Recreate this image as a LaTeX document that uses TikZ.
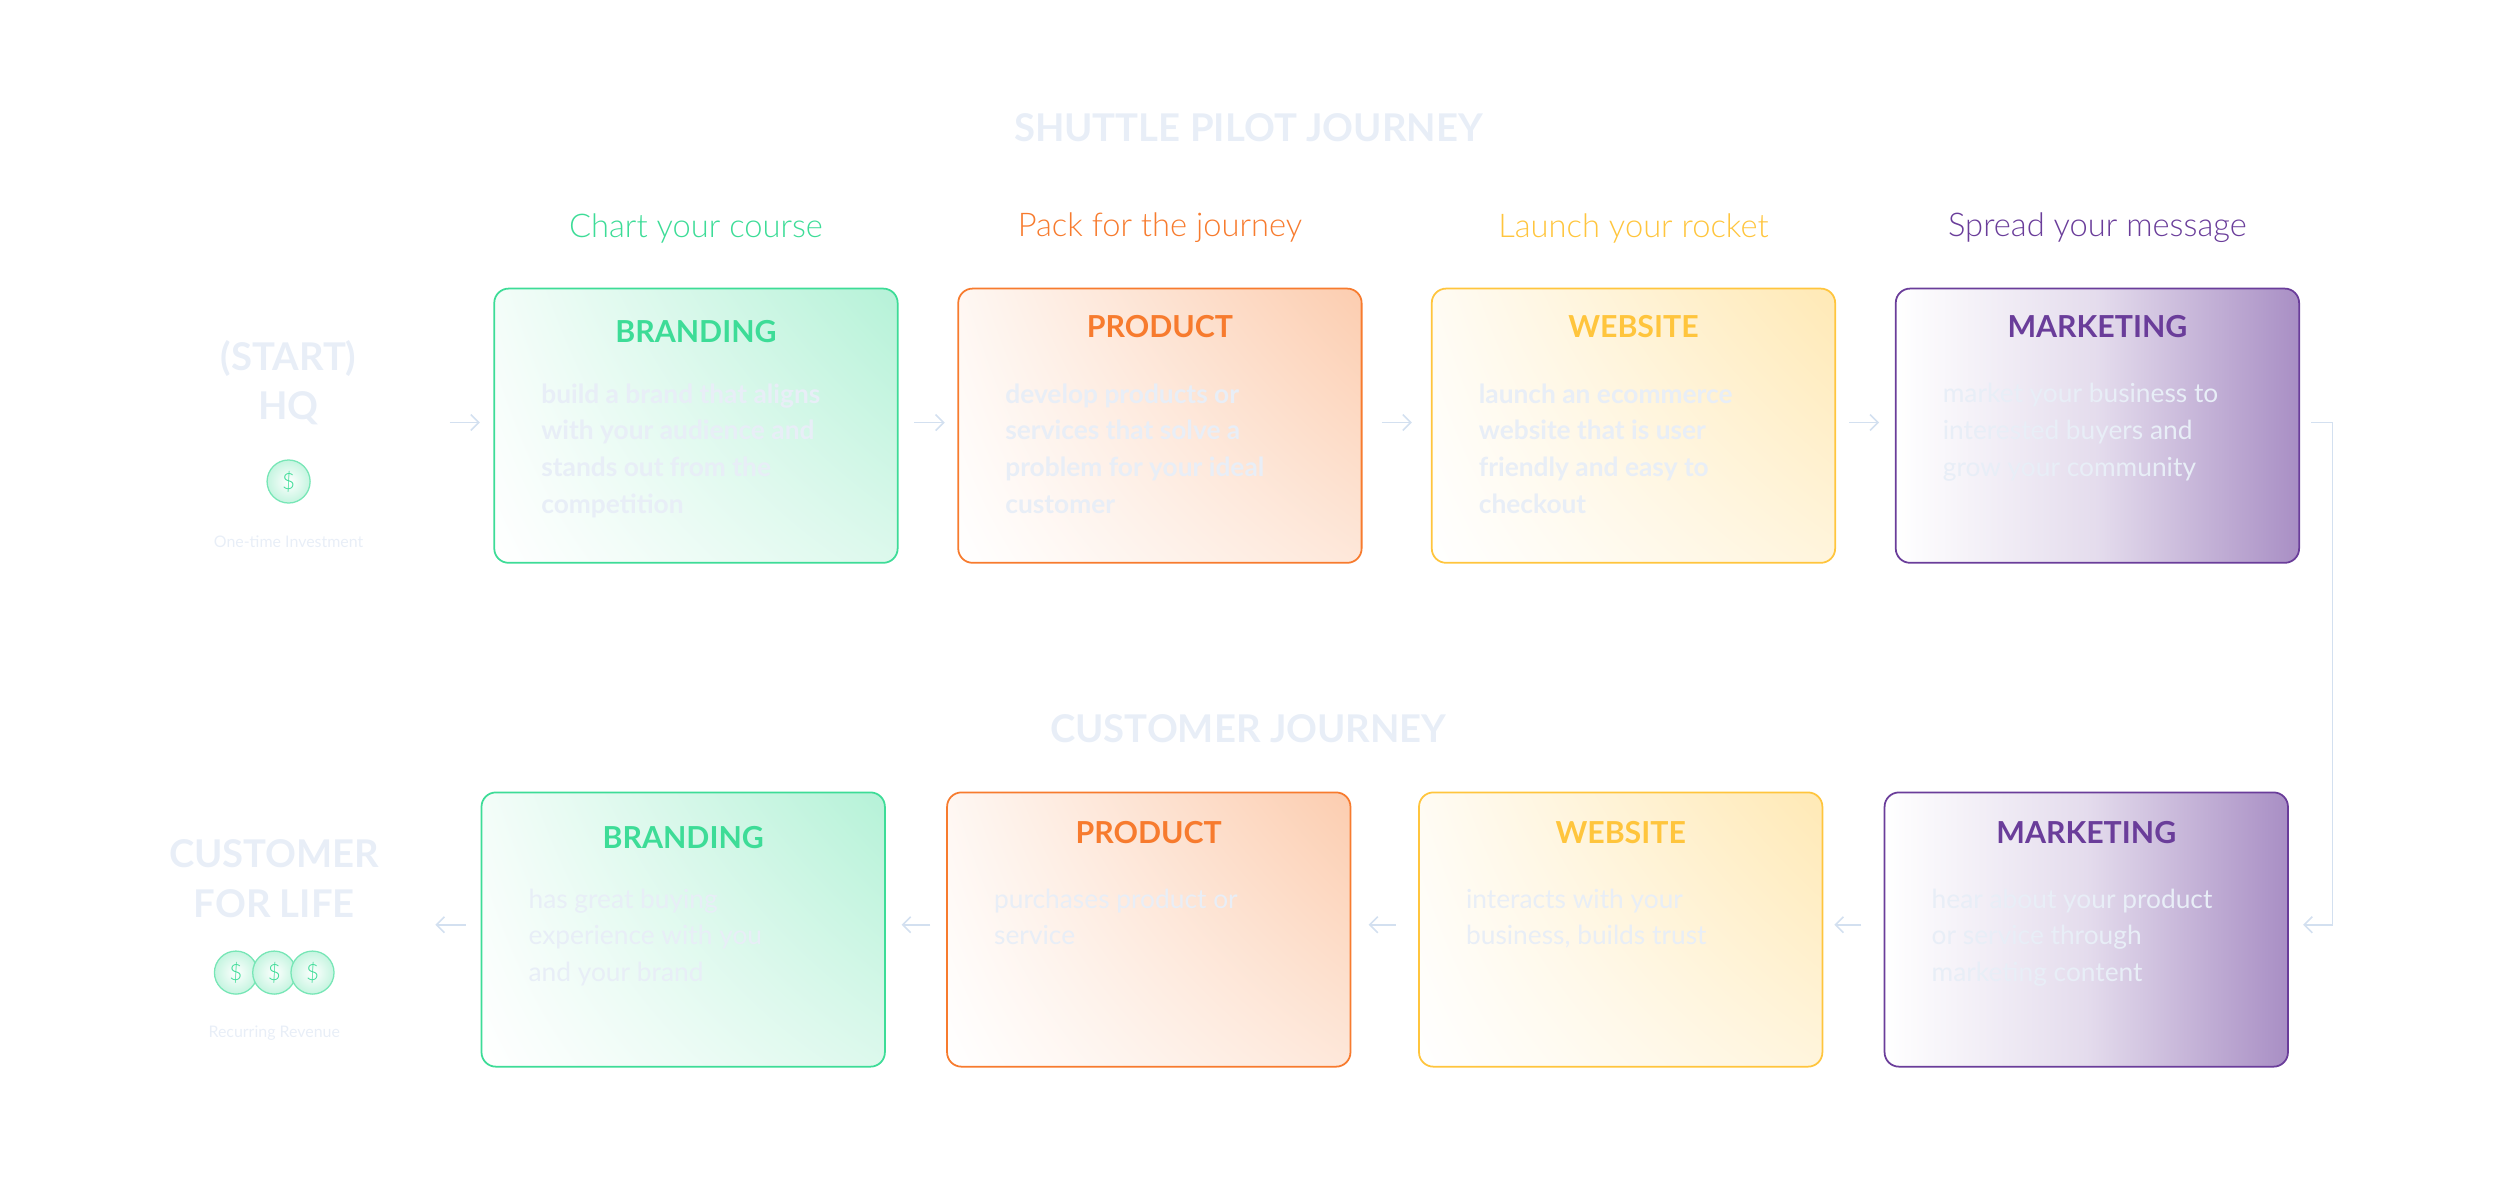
\documentclass[tikz,border=0pt]{standalone}
\usepackage{fontspec}
\setmainfont{Lato}
\newfontfamily\latolight{Lato Light}
\usetikzlibrary{arrows.meta,shadings}
\definecolor{cg}{HTML}{3DDC97}
\definecolor{co}{HTML}{F77B2E}
\definecolor{cy}{HTML}{FFC53D}
\definecolor{cp}{HTML}{6A3D9A}
\definecolor{faint}{HTML}{E8EEF7}
\definecolor{lnk}{HTML}{D3E0F0}
\tikzset{
  stagebox/.style={draw=#1, line width=1.1pt, rounded corners=9pt, minimum width=253pt, minimum height=172pt,
    lower left=white, upper left=#1!6, upper right=#1!38, lower right=#1!18},
  purplebox/.style={draw=cp, line width=1.1pt, rounded corners=9pt, minimum width=253pt, minimum height=172pt,
    left color=white, right color=cp!58, middle color=cp!18},
  boxtitle/.style={text=#1, font=\bfseries\fontsize{19}{22}\selectfont},
  body/.style={text=faint, align=left, anchor=north west, font=\fontsize{16.5}{23}\selectfont},
  sub/.style={text=#1, font=\latolight\fontsize{20.5}{22}\selectfont},
  bigtitle/.style={text=faint, font=\bfseries\fontsize{24}{28}\selectfont},
  side/.style={text=faint, font=\bfseries\fontsize{24}{31}\selectfont, align=center},
  small/.style={text=faint, font=\fontsize{10}{12}\selectfont},
  coin/.style={circle, draw=cg!70, line width=0.8pt, minimum size=27pt, inner sep=0pt, inner color=white, outer color=cg!30, text=cg, font=\latolight\fontsize{14}{14}\selectfont},
  arr/.style={draw=lnk, line width=1pt, -{Straight Barb[length=5pt,width=10pt]}}
}
\begin{document}
\begin{tikzpicture}[x=1pt,y=-1pt]
\useasboundingbox (0,0) rectangle (1568,739);
\node[bigtitle] (t1) at (783,80) {SHUTTLE PILOT JOURNEY};
\node[bigtitle] (t2) at (783,457) {CUSTOMER JOURNEY};
% subtitles
\node[sub=cg] (s1) at (436.5,143) {Chart your course};
\node[sub=co] (s2) at (727.5,143) {Pack for the journey};
\node[sub=cy] (s3) at (1024.5,143) {Launch your rocket};
\node[sub=cp] (s4) at (1315.5,143) {Spread your message};
% top boxes
\node[stagebox=cg] (b1) at (436.5,267) {};
\node[stagebox=co] (b2) at (727.5,267) {};
\node[stagebox=cy] (b3) at (1024.5,267) {};
\node[purplebox] (b4) at (1315.5,267) {};
\node[boxtitle=cg] (h1) at (436.5,208) {BRANDING};
\node[boxtitle=co] (h2) at (727.5,205) {PRODUCT};
\node[boxtitle=cy] (h3) at (1024.5,205) {WEBSITE};
\node[boxtitle=cp] (h4) at (1315.5,205) {MARKETING};
\node[body, font=\bfseries\fontsize{16.5}{23}\selectfont] (p1) at (336,237) {build a brand that aligns\\with your audience and\\stands out from the\\competition};
\node[body, font=\bfseries\fontsize{16.5}{23}\selectfont] (p2) at (627,237) {develop products or\\services that solve a\\problem for your ideal\\customer};
\node[body, font=\bfseries\fontsize{16.5}{23}\selectfont] (p3) at (924,237) {launch an ecommerce\\website that is user\\friendly and easy to\\checkout};
\node[body] (p4) at (1215,237) {market your business to\\interested buyers and\\grow your community};
% bottom boxes
\node[stagebox=cg] (c1) at (428.5,583) {};
\node[stagebox=co] (c2) at (720.5,583) {};
\node[stagebox=cy] (c3) at (1016.5,583) {};
\node[purplebox] (c4) at (1308.5,583) {};
\node[boxtitle=cg] (k1) at (428.5,525) {BRANDING};
\node[boxtitle=co] (k2) at (720.5,522) {PRODUCT};
\node[boxtitle=cy] (k3) at (1016.5,522) {WEBSITE};
\node[boxtitle=cp] (k4) at (1308.5,522) {MARKETING};
\node[body] (q1) at (328,554) {has great buying\\experience with you\\and your brand};
\node[body] (q2) at (620,554) {purchases product or\\service};
\node[body] (q3) at (916,554) {interacts with your\\business, builds trust};
\node[body] (q4) at (1208,554) {hear about your product\\or service through\\marketing content};
% left side
\node[side] (hq) at (181,240) {(START)\\HQ};
\node[coin] (m0) at (181,302) {\$};
\node[small] (inv) at (181,340) {One-time Investment};
\node[side] (cfl) at (172,551) {CUSTOMER\\FOR LIFE};
\node[coin] (m1) at (148,610) {\$};
\node[coin] (m2) at (172,610) {\$};
\node[coin] (m3) at (196,610) {\$};
\node[small] (rev) at (172,648) {Recurring Revenue};
% arrows
\coordinate (a0) at (282,265); \coordinate (a0e) at (301,265);
\draw[arr] (a0) -- (a0e);
\draw[arr] ([xshift=10pt,yshift=2pt]b1.east) -- ([xshift=29pt,yshift=2pt]b1.east);
\draw[arr] ([xshift=12pt,yshift=2pt]b2.east) -- ([xshift=31pt,yshift=2pt]b2.east);
\draw[arr] ([xshift=8pt,yshift=2pt]b3.east) -- ([xshift=27pt,yshift=2pt]b3.east);
\coordinate (r1) at (1463,265); \coordinate (r2) at (1463,580);
\draw[arr] ([xshift=7pt,yshift=2pt]b4.east) -- (r1) -- (r2) -- ([xshift=9pt,yshift=3pt]c4.east);
\draw[arr] ([xshift=-14pt,yshift=3pt]c4.west) -- ([xshift=-31pt,yshift=3pt]c4.west);
\draw[arr] ([xshift=-14pt,yshift=3pt]c3.west) -- ([xshift=-31pt,yshift=3pt]c3.west);
\draw[arr] ([xshift=-10pt,yshift=3pt]c2.west) -- ([xshift=-28pt,yshift=3pt]c2.west);
\coordinate (e1) at (292,580); \coordinate (e2) at (273,580);
\draw[arr] (e1) -- (e2);
\end{tikzpicture}
\end{document}
